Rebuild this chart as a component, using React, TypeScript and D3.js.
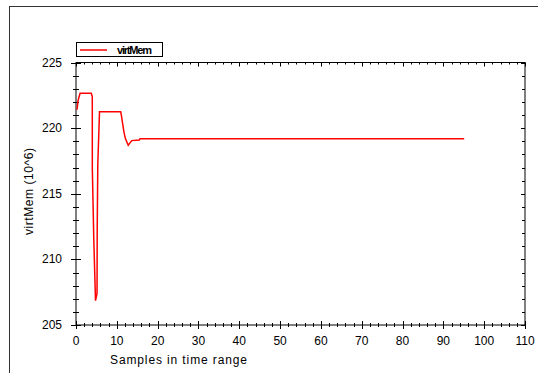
import React, { useEffect, useRef } from "react";
import * as d3 from "d3";

// samples (x) and virtMem values (10^6)
const sampleX = [0.25, 0.5, 1, 3.75, 3.99, 4.0, 4.36, 4.78, 5.15, 5.2, 5.34, 5.76, 10.95, 11.1, 11.35, 11.75, 12.1, 12.8, 13.65, 15.5, 15.7, 95.1];
const virtMem = [221.4, 222.1, 222.65, 222.65, 222.4, 216.9, 211.5, 206.85, 207.4, 212.4, 217.25, 221.25, 221.25, 221.0, 220.5, 219.7, 219.2, 218.7, 219.05, 219.1, 219.2, 219.2];

const xTicks = [0, 10, 20, 30, 40, 50, 60, 70, 80, 90, 100, 110];
const yTicks = [205, 210, 215, 220, 225];
const seriesName = "virtMem";

const margin = { left: 76, right: 13, top: 62.5, bottom: 48 };
const svgWidth = 538;
const svgHeight = 373;
const font = "'Liberation Sans', Arial, sans-serif";

export default function App() {
  const ref = useRef<SVGSVGElement>(null);

  useEffect(() => {
    document.body.style.margin = "0";
    const svg = d3.select(ref.current);
    svg.selectAll("*").remove();

    const x0 = margin.left;
    const x1 = svgWidth - margin.right;
    const y0 = margin.top;
    const y1 = svgHeight - margin.bottom;

    const x = d3.scaleLinear().domain([0, 110]).range([x0, x1]);
    const y = d3.scaleLinear().domain([205, 225]).range([y1, y0]);

    // outer frame
    svg
      .append("rect")
      .attr("x", 9.5)
      .attr("y", 6.5)
      .attr("width", 600)
      .attr("height", 600)
      .attr("fill", "none")
      .attr("stroke", "#333");

    const g = svg.append("g").attr("stroke", "#000").attr("stroke-width", 1);

    // plot box
    g.append("rect")
      .attr("x", x0)
      .attr("y", y0)
      .attr("width", x1 - x0)
      .attr("height", y1 - y0)
      .attr("fill", "none");

    // x ticks: minor every 2, major every 10
    d3.range(0, 111, 2).forEach(v => {
      const major = v % 10 === 0;
      const px = Math.round(x(v)) + 0.5;
      g.append("line")
        .attr("x1", px)
        .attr("x2", px)
        .attr("y1", y1 - (major ? 4 : 2))
        .attr("y2", y1 + (major ? 4 : 2));
      g.append("line")
        .attr("x1", px)
        .attr("x2", px)
        .attr("y1", y0)
        .attr("y2", y0 + (major ? 4 : 2));
    });

    // y ticks: minor every 1, major every 5
    d3.range(205, 226, 1).forEach(v => {
      const major = v % 5 === 0;
      const py = Math.round(y(v)) + 0.5;
      g.append("line")
        .attr("x1", x0 - (major ? 5 : 3))
        .attr("x2", x0 + (major ? 5 : 3))
        .attr("y1", py)
        .attr("y2", py);
      g.append("line")
        .attr("x1", x1 - (major ? 4 : 3))
        .attr("x2", x1)
        .attr("y1", py)
        .attr("y2", py);
    });

    // tick labels
    svg
      .append("g")
      .selectAll("text")
      .data(xTicks)
      .enter()
      .append("text")
      .attr("x", d => x(d))
      .attr("y", y1 + 20)
      .attr("text-anchor", "middle")
      .attr("font-family", font)
      .attr("font-size", 12)
      .text(d => d);

    svg
      .append("g")
      .selectAll("text")
      .data(yTicks)
      .enter()
      .append("text")
      .attr("x", x0 - 14)
      .attr("y", d => y(d) + 4)
      .attr("text-anchor", "end")
      .attr("font-family", font)
      .attr("font-size", 12)
      .text(d => d);

    // axis titles
    svg
      .append("text")
      .attr("x", 110)
      .attr("y", 364)
      .attr("font-family", font)
      .attr("font-size", 12)
      .attr("textLength", 137)
      .text("Samples in time range");

    svg
      .append("text")
      .attr("transform", `translate(33, 191.5) rotate(-90)`)
      .attr("text-anchor", "middle")
      .attr("font-family", font)
      .attr("font-size", 12)
      .attr("textLength", 87)
      .text("virtMem (10^6)");

    // series
    const line = d3
      .line<number>()
      .x((d, i) => x(sampleX[i]))
      .y(d => y(d));

    svg
      .append("path")
      .datum(virtMem)
      .attr("d", line)
      .attr("fill", "none")
      .attr("stroke", "#ff0000")
      .attr("stroke-width", 1.5);

    // legend
    const lg = svg.append("g");
    lg.append("rect")
      .attr("x", 76.5)
      .attr("y", 42.5)
      .attr("width", 86)
      .attr("height", 14)
      .attr("fill", "#fff")
      .attr("stroke", "#000");
    lg.append("line")
      .attr("x1", 80)
      .attr("x2", 107)
      .attr("y1", 50)
      .attr("y2", 50)
      .attr("stroke", "#ff0000")
      .attr("stroke-width", 1.5);
    lg.append("text")
      .attr("x", 117)
      .attr("y", 54)
      .attr("font-family", font)
      .attr("font-size", 11)
      .attr("font-weight", "bold")
      .attr("textLength", 35)
      .text(seriesName);
  }, []);

  return (
    <svg
      ref={ref}
      width={svgWidth}
      height={svgHeight}
      style={{ position: "absolute", left: 0, top: 0, background: "#fff" }}
    />
  );
}
